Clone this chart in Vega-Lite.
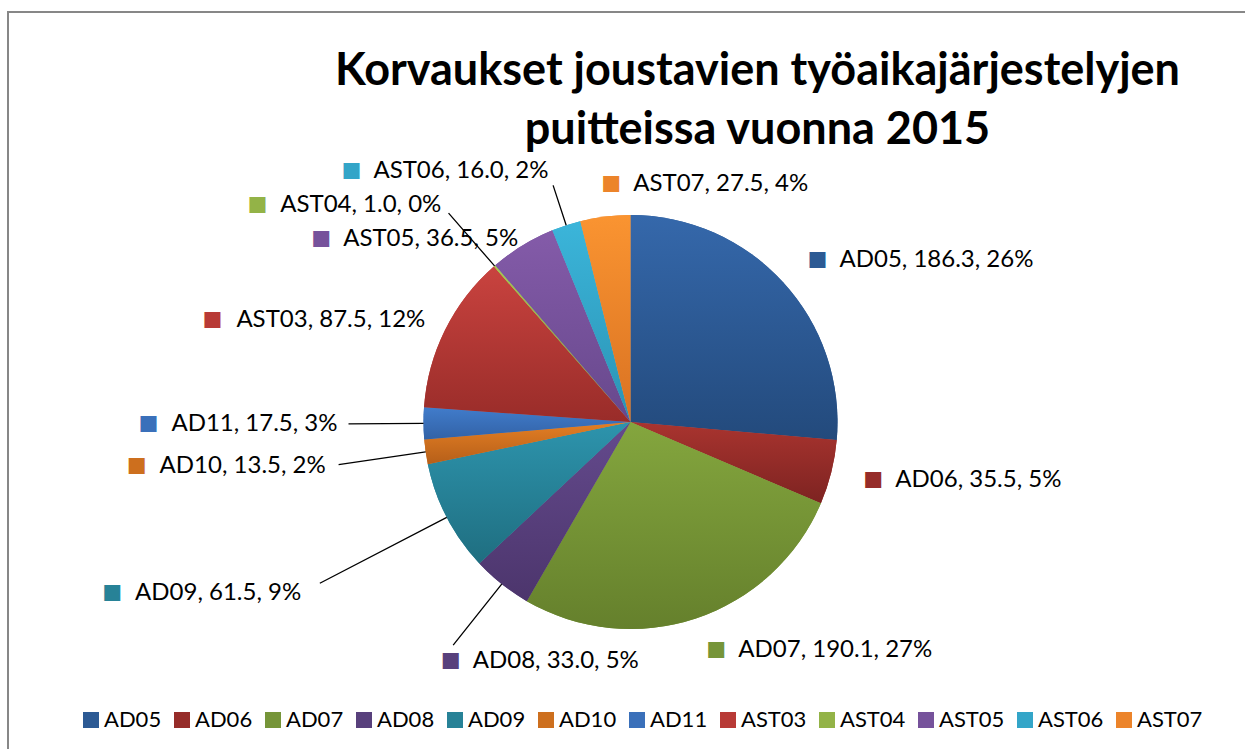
{
  "$schema": "https://vega.github.io/schema/vega-lite/v6.json",
  "width": 1245,
  "height": 820,
  "autosize": {"type": "none"},
  "padding": {"left": 8, "top": 12, "right": -8, "bottom": -83},
  "background": "white",
  "view": {"stroke": "#878787", "strokeWidth": 2, "fill": "white", "strokeDash": [1245, 2065, 820]},
  "title": {
    "text": ["Korvaukset joustavien työaikajärjestelyjen", "puitteissa vuonna 2015"],
    "font": "Lato",
    "fontSize": 45,
    "fontWeight": "bold",
    "lineHeight": 59,
    "color": "#000000",
    "anchor": "middle",
    "frame": "group",
    "offset": 0,
    "dx": 127,
    "dy": 141
  },
  "data": {
    "values": [
      {"cat": "AD05", "value": 186.3, "label": "AD05, 186.3, 26%"},
      {"cat": "AD06", "value": 35.5, "label": "AD06, 35.5, 5%"},
      {"cat": "AD07", "value": 190.1, "label": "AD07, 190.1, 27%"},
      {"cat": "AD08", "value": 33.0, "label": "AD08, 33.0, 5%"},
      {"cat": "AD09", "value": 61.5, "label": "AD09, 61.5, 9%"},
      {"cat": "AD10", "value": 13.5, "label": "AD10, 13.5, 2%"},
      {"cat": "AD11", "value": 17.5, "label": "AD11, 17.5, 3%"},
      {"cat": "AST03", "value": 87.5, "label": "AST03, 87.5, 12%"},
      {"cat": "AST04", "value": 1.0, "label": "AST04, 1.0, 0%"},
      {"cat": "AST05", "value": 36.5, "label": "AST05, 36.5, 5%"},
      {"cat": "AST06", "value": 16.0, "label": "AST06, 16.0, 2%"},
      {"cat": "AST07", "value": 27.5, "label": "AST07, 27.5, 4%"}
    ]
  },
  "encoding": {
    "theta": {"field": "value", "type": "quantitative", "stack": true},
    "order": {"field": "cat", "type": "ordinal", "sort": "ascending"},
    "detail": {"field": "cat", "type": "nominal"}
  },
  "layer": [
    {
      "mark": {"type": "arc", "radius": 207, "strokeWidth": 0},
      "encoding": {
        "color": {
          "field": "cat",
          "type": "nominal",
          "scale": {
            "domain": ["AD05", "AD06", "AD07", "AD08", "AD09", "AD10", "AD11", "AST03", "AST04", "AST05", "AST06", "AST07"],
            "range": ["#2C5A94", "#962C29", "#769539", "#58407C", "#278297", "#CD6F1E", "#3A70BA", "#B83A36", "#93B347", "#76529B", "#33A5C8", "#EC842A"]
          },
          "legend": {
            "title": null,
            "orient": "none",
            "legendX": 72,
            "legendY": 697,
            "direction": "horizontal",
            "columns": 12,
            "symbolType": "square",
            "symbolSize": 256,
            "symbolStrokeWidth": 0,
            "labelFont": "Lato",
            "labelFontSize": 22,
            "labelColor": "#000000",
            "labelOffset": 2,
            "columnPadding": 9,
            "padding": 0,
            "labelLimit": 0
          }
        }
      }
    },
    {
      "mark": {"type": "arc", "radius": 207, "strokeWidth": 0},
      "encoding": {
        "fill": {
          "condition": [
            {"test": "datum.cat==='AD05'", "value": {"gradient": "linear", "x1": 0, "y1": 0, "x2": 0, "y2": 1, "stops": [{"offset": 0, "color": "#3568AB"}, {"offset": 1, "color": "#234A7C"}]}},
            {"test": "datum.cat==='AD06'", "value": {"gradient": "linear", "x1": 0, "y1": 0, "x2": 0, "y2": 1, "stops": [{"offset": 0, "color": "#A9342F"}, {"offset": 1, "color": "#7D2321"}]}},
            {"test": "datum.cat==='AD07'", "value": {"gradient": "linear", "x1": 0, "y1": 0, "x2": 0, "y2": 1, "stops": [{"offset": 0, "color": "#84A63E"}, {"offset": 1, "color": "#65802C"}]}},
            {"test": "datum.cat==='AD08'", "value": {"gradient": "linear", "x1": 0, "y1": 0, "x2": 0, "y2": 1, "stops": [{"offset": 0, "color": "#644A8D"}, {"offset": 1, "color": "#4C356C"}]}},
            {"test": "datum.cat==='AD09'", "value": {"gradient": "linear", "x1": 0, "y1": 0, "x2": 0, "y2": 1, "stops": [{"offset": 0, "color": "#2D94AD"}, {"offset": 1, "color": "#1F6E80"}]}},
            {"test": "datum.cat==='AD10'", "value": {"gradient": "linear", "x1": 0, "y1": 0, "x2": 0, "y2": 1, "stops": [{"offset": 0, "color": "#E47F24"}, {"offset": 1, "color": "#B65F19"}]}},
            {"test": "datum.cat==='AD11'", "value": {"gradient": "linear", "x1": 0, "y1": 0, "x2": 0, "y2": 1, "stops": [{"offset": 0, "color": "#417CCB"}, {"offset": 1, "color": "#3262A6"}]}},
            {"test": "datum.cat==='AST03'", "value": {"gradient": "linear", "x1": 0, "y1": 0, "x2": 0, "y2": 1, "stops": [{"offset": 0, "color": "#C9433F"}, {"offset": 1, "color": "#992C29"}]}},
            {"test": "datum.cat==='AST04'", "value": {"gradient": "linear", "x1": 0, "y1": 0, "x2": 0, "y2": 1, "stops": [{"offset": 0, "color": "#A6CA51"}, {"offset": 1, "color": "#7B993B"}]}},
            {"test": "datum.cat==='AST05'", "value": {"gradient": "linear", "x1": 0, "y1": 0, "x2": 0, "y2": 1, "stops": [{"offset": 0, "color": "#845BA9"}, {"offset": 1, "color": "#67488C"}]}},
            {"test": "datum.cat==='AST06'", "value": {"gradient": "linear", "x1": 0, "y1": 0, "x2": 0, "y2": 1, "stops": [{"offset": 0, "color": "#3BB5DA"}, {"offset": 1, "color": "#2B93B4"}]}}
          ],
          "value": {"gradient": "linear", "x1": 0, "y1": 0, "x2": 0, "y2": 1, "stops": [{"offset": 0, "color": "#FA9431"}, {"offset": 1, "color": "#D97222"}]}
        }
      }
    },
    {
      "mark": {"type": "arc", "radius": 350, "radius2": 207, "padAngle": 3, "fillOpacity": 0, "stroke": "#000000", "strokeWidth": 1.3},
      "encoding": {"strokeOpacity": {"condition": {"test": "datum.cat==='AD09'", "value": 1}, "value": 0}}
    },
    {
      "mark": {"type": "arc", "radius": 295, "radius2": 207, "padAngle": 3, "fillOpacity": 0, "stroke": "#000000", "strokeWidth": 1.3},
      "encoding": {"strokeOpacity": {"condition": {"test": "datum.cat==='AD10'", "value": 1}, "value": 0}}
    },
    {
      "mark": {"type": "arc", "radius": 282, "radius2": 207, "padAngle": 3, "fillOpacity": 0, "stroke": "#000000", "strokeWidth": 1.3},
      "encoding": {"strokeOpacity": {"condition": {"test": "datum.cat==='AD11'", "value": 1}, "value": 0}}
    },
    {
      "mark": {"type": "arc", "radius": 277, "radius2": 207, "padAngle": 3, "fillOpacity": 0, "stroke": "#000000", "strokeWidth": 1.3},
      "encoding": {"strokeOpacity": {"condition": {"test": "datum.cat==='AST04'", "value": 1}, "value": 0}}
    },
    {
      "mark": {"type": "arc", "radius": 285, "radius2": 207, "padAngle": 3, "fillOpacity": 0, "stroke": "#000000", "strokeWidth": 1.3},
      "encoding": {"strokeOpacity": {"condition": {"test": "datum.cat==='AD08'", "value": 1}, "value": 0}}
    },
    {
      "mark": {"type": "arc", "radius": 249, "radius2": 207, "padAngle": 3, "fillOpacity": 0, "stroke": "#000000", "strokeWidth": 1.3},
      "encoding": {"strokeOpacity": {"condition": {"test": "datum.cat==='AST06'", "value": 1}, "value": 0}}
    },
    {
      "mark": {"type": "text", "radius": 240, "align": "left", "baseline": "middle", "font": "Lato", "fontSize": 33},
      "encoding": {
        "color": {"field": "cat", "type": "nominal"},
        "text": {"condition": {"test": "indexof(['AD05','AD06','AD07','AST07'], datum.cat) >= 0", "value": "■"}, "value": ""}
      }
    },
    {
      "mark": {"type": "text", "radius": 240, "align": "left", "baseline": "middle", "font": "Lato", "fontSize": 24, "dx": 32, "color": "#000000"},
      "encoding": {
        "text": {"condition": {"test": "indexof(['AD05','AD06','AD07','AST07'], datum.cat) >= 0", "field": "label", "type": "nominal"}, "value": ""}
      }
    },
    {
      "mark": {"type": "text", "radius": 305, "align": "left", "baseline": "middle", "font": "Lato", "fontSize": 33},
      "encoding": {
        "color": {"field": "cat", "type": "nominal"},
        "text": {"condition": {"test": "datum.cat==='AD08'", "value": "■"}, "value": ""}
      }
    },
    {
      "mark": {"type": "text", "radius": 305, "align": "left", "baseline": "middle", "font": "Lato", "fontSize": 24, "dx": 32, "color": "#000000"},
      "encoding": {
        "text": {"condition": {"test": "datum.cat==='AD08'", "field": "label", "type": "nominal"}, "value": ""}
      }
    },
    {
      "mark": {"type": "text", "radius": 371, "align": "right", "baseline": "middle", "font": "Lato", "fontSize": 33, "dx": -179},
      "encoding": {
        "color": {"field": "cat", "type": "nominal"},
        "text": {"condition": {"test": "datum.cat==='AD09'", "value": "■"}, "value": ""}
      }
    },
    {
      "mark": {"type": "text", "radius": 371, "align": "right", "baseline": "middle", "font": "Lato", "fontSize": 24, "color": "#000000"},
      "encoding": {
        "text": {"condition": {"test": "datum.cat==='AD09'", "field": "label", "type": "nominal"}, "value": ""}
      }
    },
    {
      "mark": {"type": "text", "radius": 308, "align": "right", "baseline": "middle", "font": "Lato", "fontSize": 33, "dx": -179},
      "encoding": {
        "color": {"field": "cat", "type": "nominal"},
        "text": {"condition": {"test": "datum.cat==='AD10'", "value": "■"}, "value": ""}
      }
    },
    {
      "mark": {"type": "text", "radius": 308, "align": "right", "baseline": "middle", "font": "Lato", "fontSize": 24, "color": "#000000"},
      "encoding": {
        "text": {"condition": {"test": "datum.cat==='AD10'", "field": "label", "type": "nominal"}, "value": ""}
      }
    },
    {
      "mark": {"type": "text", "radius": 293, "align": "right", "baseline": "middle", "font": "Lato", "fontSize": 33, "dx": -179},
      "encoding": {
        "color": {"field": "cat", "type": "nominal"},
        "text": {"condition": {"test": "datum.cat==='AD11'", "value": "■"}, "value": ""}
      }
    },
    {
      "mark": {"type": "text", "radius": 293, "align": "right", "baseline": "middle", "font": "Lato", "fontSize": 24, "color": "#000000"},
      "encoding": {
        "text": {"condition": {"test": "datum.cat==='AD11'", "field": "label", "type": "nominal"}, "value": ""}
      }
    },
    {
      "mark": {"type": "text", "radius": 288, "align": "right", "baseline": "middle", "font": "Lato", "fontSize": 33, "dx": -174},
      "encoding": {
        "color": {"field": "cat", "type": "nominal"},
        "text": {"condition": {"test": "datum.cat==='AST04'", "value": "■"}, "value": ""}
      }
    },
    {
      "mark": {"type": "text", "radius": 288, "align": "right", "baseline": "middle", "font": "Lato", "fontSize": 24, "color": "#000000"},
      "encoding": {
        "text": {"condition": {"test": "datum.cat==='AST04'", "field": "label", "type": "nominal"}, "value": ""}
      }
    },
    {
      "mark": {"type": "text", "radius": 229, "align": "right", "baseline": "middle", "font": "Lato", "fontSize": 33, "dx": -203},
      "encoding": {
        "color": {"field": "cat", "type": "nominal"},
        "text": {"condition": {"test": "datum.cat==='AST03'", "value": "■"}, "value": ""}
      }
    },
    {
      "mark": {"type": "text", "radius": 229, "align": "right", "baseline": "middle", "font": "Lato", "fontSize": 24, "color": "#000000"},
      "encoding": {
        "text": {"condition": {"test": "datum.cat==='AST03'", "field": "label", "type": "nominal"}, "value": ""}
      }
    },
    {
      "mark": {"type": "text", "radius": 215, "align": "right", "baseline": "middle", "font": "Lato", "fontSize": 33, "dx": -187},
      "encoding": {
        "color": {"field": "cat", "type": "nominal"},
        "text": {"condition": {"test": "datum.cat==='AST05'", "value": "■"}, "value": ""}
      }
    },
    {
      "mark": {"type": "text", "radius": 215, "align": "right", "baseline": "middle", "font": "Lato", "fontSize": 24, "color": "#000000"},
      "encoding": {
        "text": {"condition": {"test": "datum.cat==='AST05'", "field": "label", "type": "nominal"}, "value": ""}
      }
    },
    {
      "mark": {"type": "text", "radius": 264, "align": "right", "baseline": "middle", "font": "Lato", "fontSize": 33, "dx": -187},
      "encoding": {
        "color": {"field": "cat", "type": "nominal"},
        "text": {"condition": {"test": "datum.cat==='AST06'", "value": "■"}, "value": ""}
      }
    },
    {
      "mark": {"type": "text", "radius": 264, "align": "right", "baseline": "middle", "font": "Lato", "fontSize": 24, "color": "#000000"},
      "encoding": {
        "text": {"condition": {"test": "datum.cat==='AST06'", "field": "label", "type": "nominal"}, "value": ""}
      }
    }
  ],
  "config": {
    "view": {"stroke": "#878787", "strokeWidth": 2},
    "font": "Lato"
  }
}
